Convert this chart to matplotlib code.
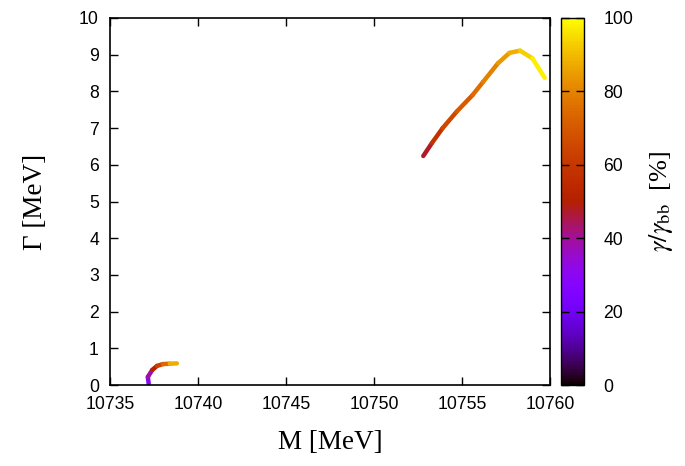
import numpy as np
import matplotlib
matplotlib.use("Agg")
import matplotlib.pyplot as plt
from matplotlib.collections import LineCollection
from matplotlib.colors import Normalize

# Data
m_upper = [10752.8, 10753.3, 10753.9, 10754.7, 10755.6, 10756.2, 10757.05, 10757.7, 10758.3, 10759.0, 10759.7]
g_upper = [6.24, 6.6, 7.0, 7.45, 7.9, 8.26, 8.77, 9.05, 9.11, 8.9, 8.37]
c_upper = [40, 55, 62, 68, 73, 77, 82, 86, 90, 96, 100]

m_lower = [10737.2, 10737.15, 10737.4, 10737.67, 10738.0, 10738.4, 10738.8]
g_lower = [0.03, 0.22, 0.41, 0.52, 0.57, 0.58, 0.59]
c_lower = [25, 32, 45, 58, 68, 80, 95]

x_ticks = [10735, 10740, 10745, 10750, 10755, 10760]
y_ticks = list(range(0, 11))
c_ticks = [0, 20, 40, 60, 80, 100]

plt.rcParams['mathtext.fontset'] = 'stix'
sans = 'Liberation Sans'
serif = 'Liberation Serif'

W, H = 685, 466
fig = plt.figure(figsize=(W / 100, H / 100), dpi=100)
ax = fig.add_axes([110 / W, 81 / H, 440 / W, 367 / H])
cax = fig.add_axes([561 / W, 81 / H, 23 / W, 367 / H])

cmap = plt.get_cmap('gnuplot')
norm = Normalize(0, 100)

def add_curve(m, g, c):
    pts = np.column_stack([m, g])
    segs = np.stack([pts[:-1], pts[1:]], axis=1)
    cvals = [(c[i] + c[i + 1]) / 2 for i in range(len(c) - 1)]
    lc = LineCollection(segs, cmap=cmap, norm=norm, linewidths=3.2, capstyle='round')
    lc.set_array(np.array(cvals))
    ax.add_collection(lc)

add_curve(m_upper, g_upper, c_upper)
add_curve(m_lower, g_lower, c_lower)

ax.set_xlim(10735, 10760)
ax.set_ylim(0, 10)
ax.set_xticks(x_ticks)
ax.set_yticks(y_ticks)
ax.tick_params(direction='in', length=6, width=1, top=True, right=True, labelsize=12.7, pad=8)
for lab in ax.get_xticklabels() + ax.get_yticklabels():
    lab.set_fontfamily(sans)
for s in ax.spines.values():
    s.set_linewidth(1.2)

ax.set_xlabel('M [MeV]', fontfamily=serif, fontsize=19.5, labelpad=12)
ax.set_ylabel('Γ [MeV]', fontfamily=serif, fontsize=19.5, labelpad=22)

sm = plt.cm.ScalarMappable(cmap=cmap, norm=norm)
cb = fig.colorbar(sm, cax=cax, ticks=c_ticks)
cb.outline.set_linewidth(1.0)
cax.tick_params(direction='in', length=6, width=1, left=True, right=True, labelsize=12.7, pad=14)
for lab in cax.get_yticklabels():
    lab.set_fontfamily(sans)
cb.set_label(r'$\gamma/\gamma_{\rm bb}$  [%]', fontsize=19, fontfamily=serif, labelpad=10)

fig.savefig('out.png', dpi=100)
